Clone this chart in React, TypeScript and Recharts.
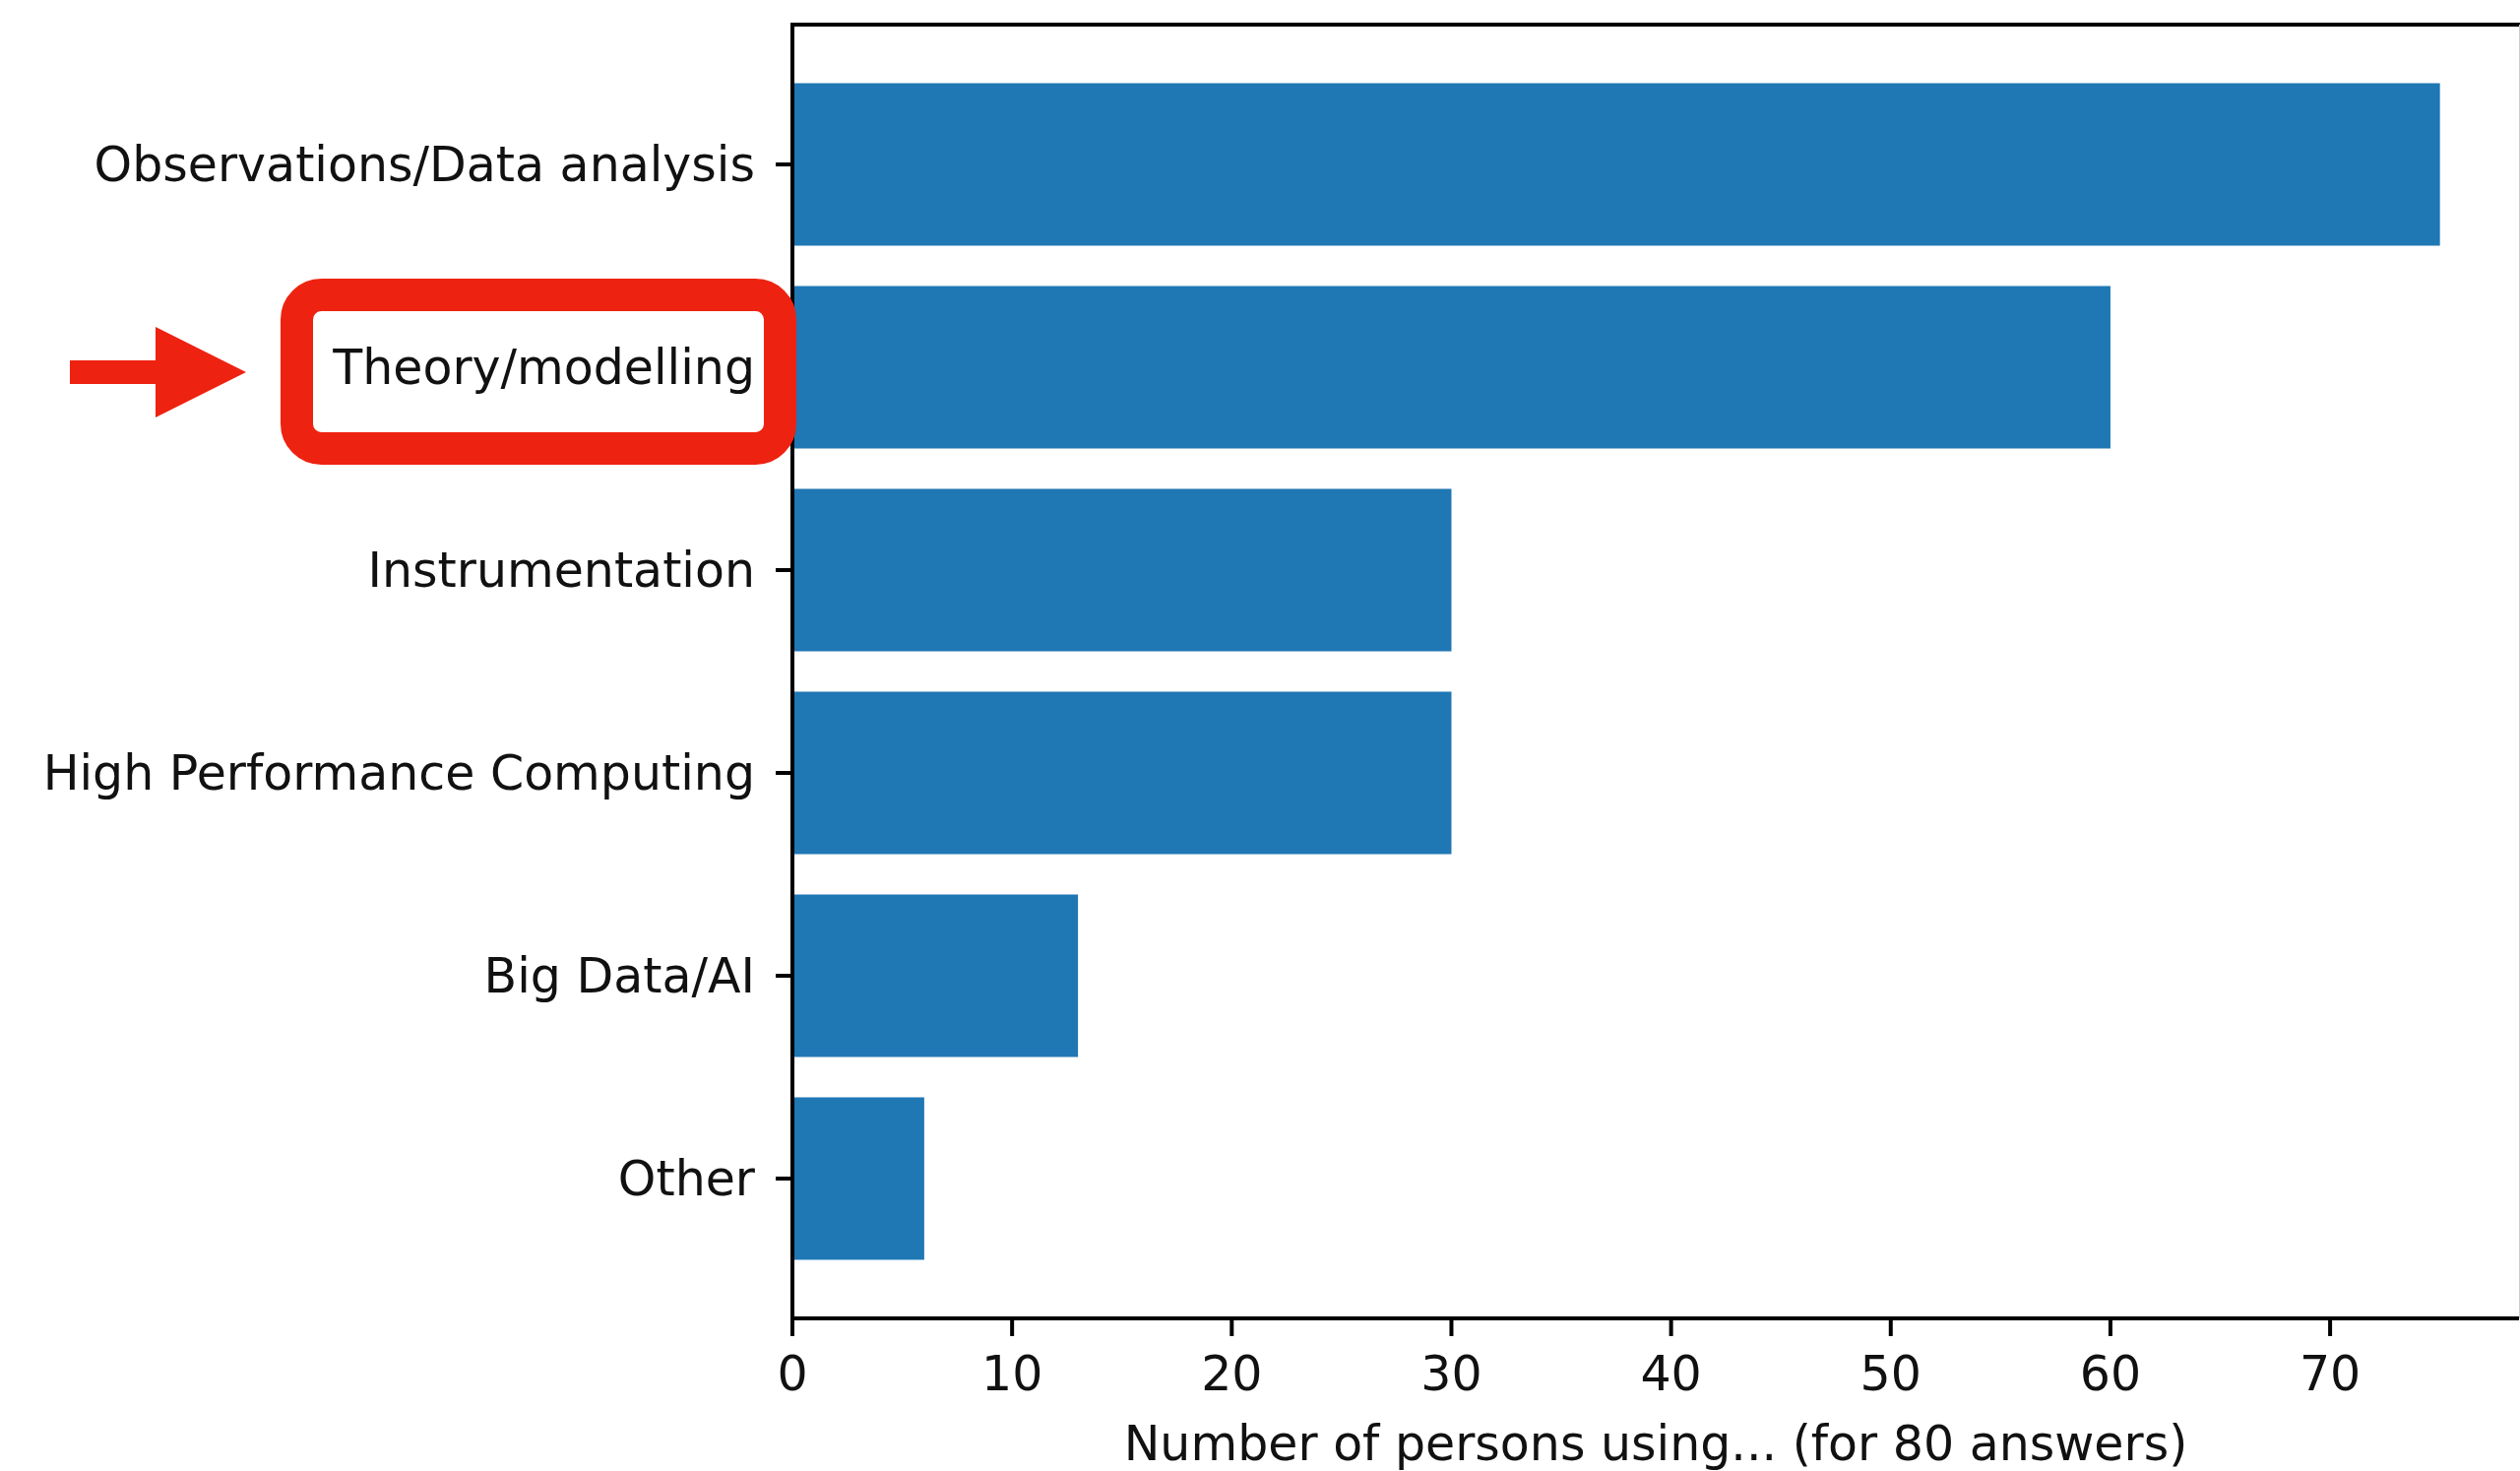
import { BarChart, Bar, XAxis, YAxis, Label } from "recharts";

// survey answers: what people use in their work
const categories = [
  "Observations/Data analysis",
  "Theory/modelling",
  "Instrumentation",
  "High Performance Computing",
  "Big Data/AI",
  "Other",
];
const counts = [75, 60, 30, 30, 13, 6];
const xTicks = [0, 10, 20, 30, 40, 50, 60, 70];

const data = categories.map((name, i) => ({ name, count: counts[i] }));

const W = 2560;
const H = 1494;
const LEFT = 805;
const TOP = 25;
const RIGHT = 2559;
const BOTTOM = 1339;
const FONT = "DejaVu Sans";
const RED = "#ee2210";

export default function App() {
  return (
    <div style={{ position: "absolute", left: 0, top: 0, width: W, height: H, background: "#fff" }}>
      <BarChart
        width={W}
        height={H}
        data={data}
        layout="vertical"
        barCategoryGap="10%"
        margin={{ top: TOP, right: W - RIGHT, bottom: 0, left: 0 }}
      >
        <XAxis
          type="number"
          dataKey="count"
          domain={[0, 78.6]}
          ticks={xTicks}
          height={H - BOTTOM}
          tickSize={18}
          tickMargin={20}
          axisLine={{ stroke: "#000", strokeWidth: 4 }}
          tickLine={{ stroke: "#000", strokeWidth: 4 }}
          tick={{ fontSize: 49, fontFamily: FONT, fill: "#111" }}
          interval={0}
        >
          <Label
            value="Number of persons using... (for 80 answers)"
            position="insideBottom"
            offset={11}
            style={{ fontSize: 49, fontFamily: FONT, fill: "#111" }}
          />
        </XAxis>
        <YAxis
          type="category"
          dataKey="name"
          width={LEFT}
          padding={{ top: 39, bottom: 39 }}
          tickSize={17}
          tickMargin={21}
          axisLine={{ stroke: "#000", strokeWidth: 4 }}
          tickLine={{ stroke: "#000", strokeWidth: 4 }}
          tick={{ fontSize: 49, fontFamily: FONT, fill: "#111" }}
          interval={0}
        />
        <Bar dataKey="count" fill="#1f77b4" isAnimationActive={false} />
      </BarChart>
      <svg
        width={W}
        height={H}
        style={{ position: "absolute", left: 0, top: 0, pointerEvents: "none" }}
      >
        {/* top and right spines */}
        <line x1={LEFT - 2} y1={TOP} x2={W} y2={TOP} stroke="#000" strokeWidth={4} />
        <line x1={RIGHT + 0.5} y1={TOP} x2={RIGHT + 0.5} y2={BOTTOM} stroke="#ccc" strokeWidth={1} />
        {/* highlight around the Theory/modelling label */}
        <rect
          x={301.5}
          y={299.5}
          width={491}
          height={156}
          rx={25}
          ry={25}
          fill="none"
          stroke={RED}
          strokeWidth={33}
        />
        <polygon
          points="71,366 158,366 158,332 250,378 158,424 158,390 71,390"
          fill={RED}
        />
      </svg>
    </div>
  );
}
